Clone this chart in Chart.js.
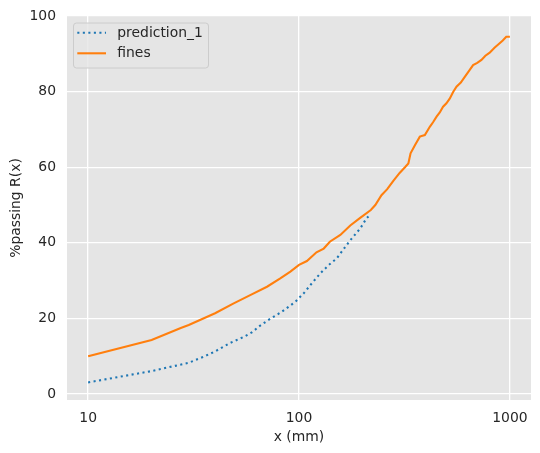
<!DOCTYPE html>
<html>
<head>
<meta charset="utf-8">
<script src="https://cdn.jsdelivr.net/npm/chart.js@4/dist/chart.umd.min.js"></script>
<style>
  html, body { margin: 0; padding: 0; background: #ffffff; }
  #c { display: block; }
</style>
</head>
<body>
<canvas id="c" width="540" height="453"></canvas>
<script>
// ---- data ----
const predLabel = "prediction_1";
const fineLabel = "fines";
const predX = [10, 20, 30, 35, 40, 47, 55, 60, 65, 72, 83, 96, 105, 115, 126, 138, 151, 162, 175, 195, 209, 219];
const predY = [3.1, 6.1, 8.3, 9.8, 11.3, 13.5, 15.2, 16.4, 18.0, 19.7, 21.8, 24.4, 26.6, 29.3, 31.9, 34.1, 35.9, 38.2, 40.7, 43.8, 46.5, 47.6];
const fineX = [10, 20, 27.5, 30, 40, 49, 58.7, 70.5, 81.5, 91, 100, 109, 121, 131, 140, 157, 175, 195, 219, 230, 246, 262, 280, 300, 318, 330, 338, 355, 374, 395, 417, 432, 449, 465, 482, 500, 519, 538, 558, 585, 611, 640, 669, 700, 733, 765, 802, 845, 894, 925, 961, 1000];
const fineY = [10.0, 14.3, 17.5, 18.3, 21.4, 24.0, 26.2, 28.4, 30.6, 32.4, 34.2, 35.2, 37.5, 38.5, 40.3, 42.1, 44.6, 46.6, 48.7, 50.0, 52.6, 54.2, 56.4, 58.5, 60.0, 61.0, 63.7, 65.9, 68.1, 68.5, 70.7, 71.9, 73.4, 74.5, 76.0, 76.9, 78.2, 79.9, 81.3, 82.4, 83.9, 85.5, 87.0, 87.6, 88.4, 89.5, 90.3, 91.6, 92.8, 93.5, 94.5, 94.5];
const xTicks = [10, 100, 1000];
const yTicks = [0, 20, 40, 60, 80, 100];
const xTitle = "x (mm)";
const yTitle = "%passing R(x)";

const FONT = "'DejaVu Sans', 'Liberation Sans', sans-serif";
const TXT = '#262626';
const BLUE = '#1f77b4';
const ORANGE = '#ff7f0e';

const bgPlugin = {
  id: 'bg',
  beforeDraw(chart) {
    const a = chart.chartArea, ctx = chart.ctx;
    ctx.save();
    ctx.fillStyle = '#e5e5e5';
    ctx.fillRect(a.left, a.top, a.right - a.left, a.bottom - a.top);
    ctx.restore();
  }
};

const legendPlugin = {
  id: 'mplLegend',
  afterDraw(chart) {
    const ctx = chart.ctx;
    const x0 = 73.5, y0 = 23, w = 135, h = 45, r = 3;
    ctx.save();
    ctx.beginPath();
    ctx.moveTo(x0 + r, y0);
    ctx.lineTo(x0 + w - r, y0);
    ctx.arcTo(x0 + w, y0, x0 + w, y0 + r, r);
    ctx.lineTo(x0 + w, y0 + h - r);
    ctx.arcTo(x0 + w, y0 + h, x0 + w - r, y0 + h, r);
    ctx.lineTo(x0 + r, y0 + h);
    ctx.arcTo(x0, y0 + h, x0, y0 + h - r, r);
    ctx.lineTo(x0, y0 + r);
    ctx.arcTo(x0, y0, x0 + r, y0, r);
    ctx.closePath();
    ctx.fillStyle = 'rgba(229,229,229,0.8)';
    ctx.fill();
    ctx.strokeStyle = '#cccccc';
    ctx.lineWidth = 1;
    ctx.stroke();
    const rows = chart.data.datasets.map(d => d);
    const ys = [32.7, 53.3];
    rows.forEach((ds, i) => {
      ctx.beginPath();
      ctx.setLineDash(ds.borderDash || []);
      ctx.lineCap = 'butt';
      ctx.strokeStyle = ds.borderColor;
      ctx.lineWidth = ds.borderWidth;
      ctx.moveTo(77.3, ys[i]);
      ctx.lineTo(106, ys[i]);
      ctx.stroke();
      ctx.setLineDash([]);
      ctx.fillStyle = TXT;
      ctx.font = "13.9px " + FONT;
      ctx.textBaseline = 'middle';
      ctx.textAlign = 'left';
      ctx.fillText(ds.label, 117.3, ys[i] + 0.5);
    });
    ctx.restore();
  }
};

const ctx = document.getElementById('c').getContext('2d');
new Chart(ctx, {
  type: 'line',
  data: {
    datasets: [
      {
        label: predLabel,
        data: predX.map((x, i) => ({ x: x, y: predY[i] })),
        borderColor: BLUE,
        borderWidth: 2.08,
        borderDash: [2.08, 3.44],
        borderCapStyle: 'butt',
        pointRadius: 0,
        tension: 0,
        fill: false
      },
      {
        label: fineLabel,
        data: fineX.map((x, i) => ({ x: x, y: fineY[i] })),
        borderColor: ORANGE,
        borderWidth: 2.08,
        borderCapStyle: 'butt',
        pointRadius: 0,
        tension: 0,
        fill: false
      }
    ]
  },
  options: {
    responsive: false,
    animation: false,
    devicePixelRatio: 1,
    layout: { padding: { top: 16, right: 9, left: 0, bottom: 0 } },
    plugins: {
      legend: { display: false },
      tooltip: { enabled: false }
    },
    scales: {
      x: {
        type: 'logarithmic',
        min: 7.94,
        max: 1259,
        afterBuildTicks(scale) { scale.ticks = xTicks.map(v => ({ value: v })); },
        afterFit(scale) { scale.height = 53; scale.paddingLeft = 0; scale.paddingRight = 0; scale.paddingTop = 0; scale.paddingBottom = 0; },
        border: { display: false },
        grid: { color: '#ffffff', lineWidth: 1.3, drawTicks: false },
        ticks: {
          color: TXT,
          font: { family: FONT, size: 13.9 },
          padding: 10,
          maxRotation: 0,
          autoSkip: false,
          callback: (v) => String(v)
        },
        title: {
          display: true,
          text: xTitle,
          color: TXT,
          font: { family: FONT, size: 13.9 },
          padding: { top: 0, bottom: 7 }
        }
      },
      y: {
        type: 'linear',
        min: -1.55,
        max: 100,
        afterBuildTicks(scale) { scale.ticks = yTicks.map(v => ({ value: v })); },
        afterFit(scale) { scale.width = 67; scale.paddingLeft = 0; scale.paddingRight = 0; scale.paddingTop = 0; scale.paddingBottom = 0; },
        border: { display: false },
        grid: { color: '#ffffff', lineWidth: 1.3, drawTicks: false },
        ticks: {
          color: TXT,
          font: { family: FONT, size: 13.9 },
          padding: 11,
          callback: (v) => String(v)
        },
        title: {
          display: true,
          text: yTitle,
          color: TXT,
          font: { family: FONT, size: 13.9 },
          padding: { top: 8, bottom: 0 }
        }
      }
    }
  },
  plugins: [bgPlugin, legendPlugin]
});
</script>
</body>
</html>
